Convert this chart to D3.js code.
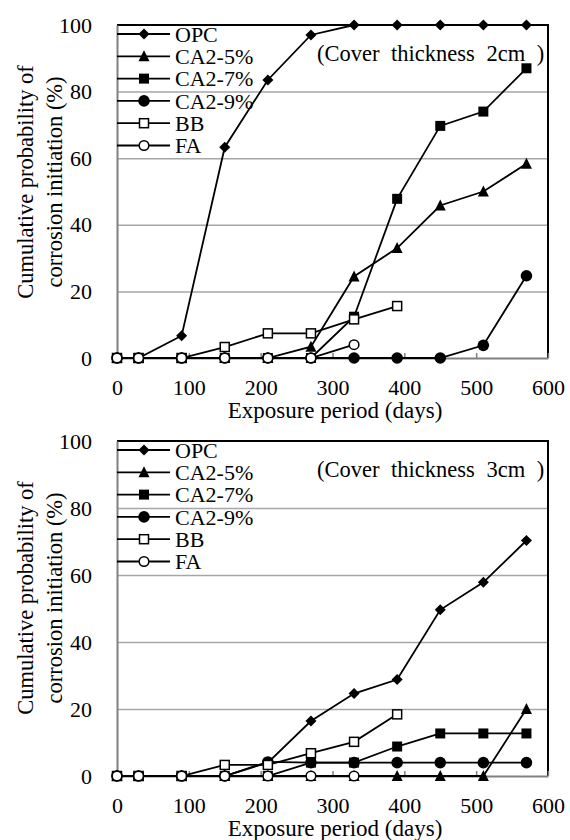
<!DOCTYPE html>
<html>
<head>
<meta charset="utf-8">
<script src="https://cdn.jsdelivr.net/npm/d3@7"></script>
<style>
  body { margin: 0; padding: 0; background: #fff; }
  svg text { font-family: "Liberation Serif", "Times New Roman", serif; fill: #000; }
</style>
</head>
<body>
<script>
// exposure days (x values)
var days = [0, 30, 90, 150, 210, 270, 330, 390, 450, 510, 570];
var xTicks = [0, 100, 200, 300, 400, 500, 600];
var yTicks = [0, 20, 40, 60, 80, 100];
var seriesNames = ["OPC", "CA2-5%", "CA2-7%", "CA2-9%", "BB", "FA"];

// cover 2cm
var opc2 = [0, 0, 6.7, 63.3, 83.5, 97, 100, 100, 100, 100, 100];
var ca5_2 = [0, 0, 0, 0, 0, 3.4, 24.5, 33, 45.8, 50, 58.3];
var ca7_2 = [0, 0, 0, 0, 0, 0, 12.4, 47.8, 69.7, 74, 87];
var ca9_2 = [0, 0, 0, 0, 0, 0, 0, 0, 0, 3.8, 24.7];
var bb2 = [0, 0, 0, 3.3, 7.4, 7.4, 11.6, 15.6];
var fa2 = [0, 0, 0, 0, 0, 0, 4];

// cover 3cm
var opc3 = [0, 0, 0, 0, 4, 16.4, 24.6, 28.8, 49.6, 57.8, 70.3];
var ca5_3 = [0, 0, 0, 0, 0, 0, 0, 0, 0, 0, 20];
var ca7_3 = [0, 0, 0, 0, 0, 4, 4, 8.8, 12.7, 12.7, 12.7];
var ca9_3 = [0, 0, 0, 0, 4.2, 4, 4, 4, 4, 4, 4];
var bb3 = [0, 0, 0, 3.3, 3.3, 6.8, 10.2, 18.4];
var fa3 = [0, 0, 0, 0, 0, 0, 0];

var markerTypes = ["diamond", "triangle", "square", "circle", "osquare", "ocircle"];

var svg = d3.select("body").append("svg")
    .attr("width", 570)
    .attr("height", 840);

function drawMarker(g, type, cx, cy) {
  if (type == "diamond") {
    g.append("path").attr("d", "M" + cx + "," + (cy - 5.5) + "L" + (cx + 5.5) + "," + cy + "L" + cx + "," + (cy + 5.5) + "L" + (cx - 5.5) + "," + cy + "Z")
      .attr("fill", "#000");
  } else if (type == "triangle") {
    g.append("path").attr("d", "M" + cx + "," + (cy - 6) + "L" + (cx + 5.5) + "," + (cy + 5) + "L" + (cx - 5.5) + "," + (cy + 5) + "Z")
      .attr("fill", "#000");
  } else if (type == "square") {
    g.append("rect").attr("x", cx - 5).attr("y", cy - 5).attr("width", 10).attr("height", 10).attr("fill", "#000");
  } else if (type == "circle") {
    g.append("circle").attr("cx", cx).attr("cy", cy).attr("r", 5.8).attr("fill", "#000");
  } else if (type == "osquare") {
    g.append("rect").attr("x", cx - 4.5).attr("y", cy - 4.5).attr("width", 9).attr("height", 9)
      .attr("fill", "#fff").attr("stroke", "#000").attr("stroke-width", 1.5);
  } else {
    g.append("circle").attr("cx", cx).attr("cy", cy).attr("r", 4.8)
      .attr("fill", "#fff").attr("stroke", "#000").attr("stroke-width", 1.5);
  }
}

function drawPanel(top, bottom, allSeries, caption, titleY) {
  var x = d3.scaleLinear().domain([0, 600]).range([117, 548]);
  var y = d3.scaleLinear().domain([0, 100]).range([bottom, top]);
  var g = svg.append("g");

  // gridlines
  g.append("g")
    .attr("transform", "translate(117,0)")
    .call(d3.axisLeft(y).tickValues([20, 40, 60, 80]).tickSize(-431).tickFormat(""))
    .call(function (s) {
      s.select(".domain").remove();
      s.selectAll("line").attr("stroke", "#a6a6a6").attr("stroke-width", 1.5);
    });

  // top and right border
  g.append("path")
    .attr("d", "M117," + top + "H548V" + bottom)
    .attr("fill", "none").attr("stroke", "#000").attr("stroke-width", 2);

  // x axis
  g.append("g")
    .attr("transform", "translate(0," + bottom + ")")
    .call(d3.axisBottom(x).tickValues(xTicks).tickSizeInner(-5).tickSizeOuter(0).tickPadding(21))
    .call(function (s) {
      s.attr("font-family", null);
      s.select(".domain").attr("stroke", "#808080").attr("stroke-width", 2);
      s.selectAll("line").attr("stroke", "#808080").attr("stroke-width", 1.5);
      s.selectAll("text").attr("font-size", 22);
    });

  // y axis
  g.append("g")
    .attr("transform", "translate(117,0)")
    .call(d3.axisLeft(y).tickValues(yTicks).tickSize(0).tickPadding(25))
    .call(function (s) {
      s.attr("font-family", null);
      s.select(".domain").attr("stroke", "#808080").attr("stroke-width", 2);
      s.selectAll("text").attr("font-size", 22);
    });

  // series
  var line = d3.line().x(function (d) { return x(d[0]); }).y(function (d) { return y(d[1]); });
  allSeries.forEach(function (vals, i) {
    var pts = vals.map(function (v, j) { return [days[j], v]; });
    var sg = g.append("g");
    sg.append("path").attr("d", line(pts)).attr("fill", "none").attr("stroke", "#000").attr("stroke-width", 1.8);
    pts.forEach(function (p) { drawMarker(sg, markerTypes[i], x(p[0]), y(p[1])); });
  });

  // legend
  seriesNames.forEach(function (name, i) {
    var ly = top + 9 + i * 22.3;
    var lg = g.append("g");
    lg.append("line").attr("x1", 117).attr("x2", 170).attr("y1", ly).attr("y2", ly)
      .attr("stroke", "#000").attr("stroke-width", 1.8);
    drawMarker(lg, markerTypes[i], 144, ly);
    lg.append("text").attr("x", 175).attr("y", ly).attr("dy", "0.35em")
      .attr("font-size", 22).text(name);
  });

  // caption
  g.append("text").attr("x", 317).attr("y", top + 36)
    .attr("font-size", 22.5).attr("word-spacing", 6)
    .text(caption);

  // axis titles
  g.append("text").attr("x", 335).attr("y", bottom + 60)
    .attr("text-anchor", "middle").attr("font-size", 23)
    .text("Exposure period (days)");
  var yt = g.append("text").attr("transform", "translate(0," + titleY + ") rotate(-90)")
    .attr("text-anchor", "middle").attr("font-size", 22.5);
  yt.append("tspan").attr("x", 0).attr("y", 33).text("Cumulative probability of");
  yt.append("tspan").attr("x", 0).attr("y", 62).text("corrosion initiation (%)");
}

drawPanel(25, 358, [opc2, ca5_2, ca7_2, ca9_2, bb2, fa2], "(Cover thickness 2cm )", 182);
drawPanel(441, 776, [opc3, ca5_3, ca7_3, ca9_3, bb3, fa3], "(Cover thickness 3cm )", 598);
</script>
</body>
</html>
